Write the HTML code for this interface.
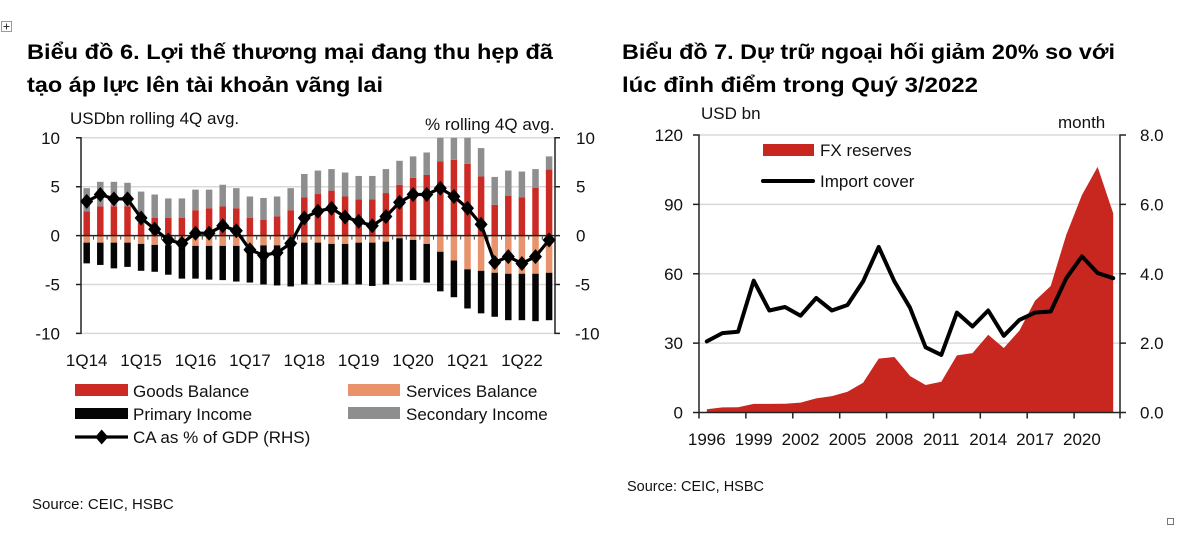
<!DOCTYPE html>
<html>
<head>
<meta charset="utf-8">
<style>
html,body{margin:0;padding:0;background:#fff;}
svg{display:block;}
text{font-family:"Liberation Sans","Noto Sans CJK SC",sans-serif;fill:#111;}
.t{font-weight:bold;font-size:21px;fill:#000;}
.s{font-size:17px;}
</style>
</head>
<body>
<svg width="1200" height="536" viewBox="0 0 1200 536" xmlns="http://www.w3.org/2000/svg">
<defs>
<path id="dm" d="M0,-7.5L6.5,0L0,7.5L-6.5,0Z" fill="#000"/>
</defs>

<!-- top-left icon -->
<rect x="1.5" y="21.5" width="10" height="10" fill="#fff" stroke="#9a9a9a" stroke-width="1"/>
<path d="M6.5,23.5V29.5M3.5,26.5H9.5" stroke="#333" stroke-width="1"/>
<!-- bottom-right square -->
<rect x="1167.5" y="518.5" width="6" height="6" fill="none" stroke="#777" stroke-width="1"/>

<!-- Titles -->
<text class="t" x="27" y="59" textLength="526" lengthAdjust="spacingAndGlyphs">Biểu đồ 6. Lợi thế thương mại đang thu hẹp đã</text>
<text class="t" x="27" y="92" textLength="356" lengthAdjust="spacingAndGlyphs">tạo áp lực lên tài khoản vãng lai</text>
<text class="t" x="622" y="59" textLength="493" lengthAdjust="spacingAndGlyphs">Biểu đồ 7. Dự trữ ngoại hối giảm 20% so với</text>
<text class="t" x="622" y="92" textLength="356" lengthAdjust="spacingAndGlyphs">lúc đỉnh điểm trong Quý 3/2022</text>

<!-- ================= LEFT CHART ================= -->
<text class="s" x="70" y="124">USDbn rolling 4Q avg.</text>
<text class="s" x="425" y="130">% rolling 4Q avg.</text>

<!-- gridlines -->
<g stroke="#d9d9d9" stroke-width="1.5">
<line x1="81" y1="137.8" x2="555" y2="137.8"/>
<line x1="81" y1="186.7" x2="555" y2="186.7"/>
<line x1="81" y1="284.5" x2="555" y2="284.5"/>
<line x1="81" y1="333.4" x2="555" y2="333.4"/>
</g>

<!-- bars in value units -->
<g transform="matrix(1 0 0 -9.78 0 235.6)">
<g fill="#cc2a24">
<rect x="83.45" y="0" width="6.5" height="2.46"/>
<rect x="97.05" y="0" width="6.5" height="3.0"/>
<rect x="110.65" y="0" width="6.5" height="3.0"/>
<rect x="124.25" y="0" width="6.5" height="3.0"/>
<rect x="137.85" y="0" width="6.5" height="1.3"/>
<rect x="151.45" y="0" width="6.5" height="1.8"/>
<rect x="165.05" y="0" width="6.5" height="1.8"/>
<rect x="178.65" y="0" width="6.5" height="1.8"/>
<rect x="192.25" y="0" width="6.5" height="2.6"/>
<rect x="205.85" y="0" width="6.5" height="2.8"/>
<rect x="219.45" y="0" width="6.5" height="3.0"/>
<rect x="233.05" y="0" width="6.5" height="2.8"/>
<rect x="246.65" y="0" width="6.5" height="1.8"/>
<rect x="260.25" y="0" width="6.5" height="1.6"/>
<rect x="273.85" y="0" width="6.5" height="1.95"/>
<rect x="287.45" y="0" width="6.5" height="2.6"/>
<rect x="301.05" y="0" width="6.5" height="3.9"/>
<rect x="314.65" y="0" width="6.5" height="4.25"/>
<rect x="328.25" y="0" width="6.5" height="4.6"/>
<rect x="341.85" y="0" width="6.5" height="4.0"/>
<rect x="355.45" y="0" width="6.5" height="3.7"/>
<rect x="369.05" y="0" width="6.5" height="3.7"/>
<rect x="382.65" y="0" width="6.5" height="4.35"/>
<rect x="396.25" y="0" width="6.5" height="5.2"/>
<rect x="409.85" y="0" width="6.5" height="5.9"/>
<rect x="423.45" y="0" width="6.5" height="6.2"/>
<rect x="437.05" y="0" width="6.5" height="7.6"/>
<rect x="450.65" y="0" width="6.5" height="7.75"/>
<rect x="464.25" y="0" width="6.5" height="7.35"/>
<rect x="477.85" y="0" width="6.5" height="6.05"/>
<rect x="491.45" y="0" width="6.5" height="3.15"/>
<rect x="505.05" y="0" width="6.5" height="4.05"/>
<rect x="518.65" y="0" width="6.5" height="3.9"/>
<rect x="532.25" y="0" width="6.5" height="4.9"/>
<rect x="545.85" y="0" width="6.5" height="6.75"/>
</g>
<g fill="#8e8e8e">
<rect x="83.45" y="2.46" width="6.5" height="2.39"/>
<rect x="97.05" y="3.0" width="6.5" height="2.5"/>
<rect x="110.65" y="3.0" width="6.5" height="2.5"/>
<rect x="124.25" y="3.0" width="6.5" height="2.4"/>
<rect x="137.85" y="1.3" width="6.5" height="3.2"/>
<rect x="151.45" y="1.8" width="6.5" height="2.4"/>
<rect x="165.05" y="1.8" width="6.5" height="2.0"/>
<rect x="178.65" y="1.8" width="6.5" height="2.0"/>
<rect x="192.25" y="2.6" width="6.5" height="2.1"/>
<rect x="205.85" y="2.8" width="6.5" height="1.9"/>
<rect x="219.45" y="3.0" width="6.5" height="2.2"/>
<rect x="233.05" y="2.8" width="6.5" height="2.05"/>
<rect x="246.65" y="1.8" width="6.5" height="2.2"/>
<rect x="260.25" y="1.6" width="6.5" height="2.25"/>
<rect x="273.85" y="1.95" width="6.5" height="2.05"/>
<rect x="287.45" y="2.6" width="6.5" height="2.25"/>
<rect x="301.05" y="3.9" width="6.5" height="2.4"/>
<rect x="314.65" y="4.25" width="6.5" height="2.4"/>
<rect x="328.25" y="4.6" width="6.5" height="2.2"/>
<rect x="341.85" y="4.0" width="6.5" height="2.45"/>
<rect x="355.45" y="3.7" width="6.5" height="2.4"/>
<rect x="369.05" y="3.7" width="6.5" height="2.4"/>
<rect x="382.65" y="4.35" width="6.5" height="2.45"/>
<rect x="396.25" y="5.2" width="6.5" height="2.45"/>
<rect x="409.85" y="5.9" width="6.5" height="2.2"/>
<rect x="423.45" y="6.2" width="6.5" height="2.3"/>
<rect x="437.05" y="7.6" width="6.5" height="2.4"/>
<rect x="450.65" y="7.75" width="6.5" height="2.25"/>
<rect x="464.25" y="7.35" width="6.5" height="2.65"/>
<rect x="477.85" y="6.05" width="6.5" height="2.9"/>
<rect x="491.45" y="3.15" width="6.5" height="2.85"/>
<rect x="505.05" y="4.05" width="6.5" height="2.6"/>
<rect x="518.65" y="3.9" width="6.5" height="2.65"/>
<rect x="532.25" y="4.9" width="6.5" height="1.9"/>
<rect x="545.85" y="6.75" width="6.5" height="1.35"/>
</g>
<g fill="#e8936c">
<rect x="83.45" y="-0.72" width="6.5" height="0.72"/>
<rect x="97.05" y="-0.72" width="6.5" height="0.72"/>
<rect x="110.65" y="-0.72" width="6.5" height="0.72"/>
<rect x="124.25" y="-0.72" width="6.5" height="0.72"/>
<rect x="137.85" y="-0.85" width="6.5" height="0.85"/>
<rect x="151.45" y="-0.95" width="6.5" height="0.95"/>
<rect x="165.05" y="-1.0" width="6.5" height="1.0"/>
<rect x="178.65" y="-1.0" width="6.5" height="1.0"/>
<rect x="192.25" y="-1.05" width="6.5" height="1.05"/>
<rect x="205.85" y="-1.05" width="6.5" height="1.05"/>
<rect x="219.45" y="-1.05" width="6.5" height="1.05"/>
<rect x="233.05" y="-1.05" width="6.5" height="1.05"/>
<rect x="246.65" y="-1.0" width="6.5" height="1.0"/>
<rect x="260.25" y="-1.0" width="6.5" height="1.0"/>
<rect x="273.85" y="-1.0" width="6.5" height="1.0"/>
<rect x="287.45" y="-1.0" width="6.5" height="1.0"/>
<rect x="301.05" y="-0.72" width="6.5" height="0.72"/>
<rect x="314.65" y="-0.72" width="6.5" height="0.72"/>
<rect x="328.25" y="-0.85" width="6.5" height="0.85"/>
<rect x="341.85" y="-0.85" width="6.5" height="0.85"/>
<rect x="355.45" y="-0.72" width="6.5" height="0.72"/>
<rect x="369.05" y="-0.72" width="6.5" height="0.72"/>
<rect x="382.65" y="-0.62" width="6.5" height="0.62"/>
<rect x="396.25" y="-0.27" width="6.5" height="0.27"/>
<rect x="409.85" y="-0.44" width="6.5" height="0.44"/>
<rect x="423.45" y="-0.85" width="6.5" height="0.85"/>
<rect x="437.05" y="-1.65" width="6.5" height="1.65"/>
<rect x="450.65" y="-2.55" width="6.5" height="2.55"/>
<rect x="464.25" y="-3.45" width="6.5" height="3.45"/>
<rect x="477.85" y="-3.6" width="6.5" height="3.6"/>
<rect x="491.45" y="-3.8" width="6.5" height="3.8"/>
<rect x="505.05" y="-3.9" width="6.5" height="3.9"/>
<rect x="518.65" y="-3.9" width="6.5" height="3.9"/>
<rect x="532.25" y="-3.9" width="6.5" height="3.9"/>
<rect x="545.85" y="-3.8" width="6.5" height="3.8"/>
</g>
<g fill="#050505">
<rect x="83.45" y="-2.84" width="6.5" height="2.12"/>
<rect x="97.05" y="-3.0" width="6.5" height="2.28"/>
<rect x="110.65" y="-3.35" width="6.5" height="2.63"/>
<rect x="124.25" y="-3.2" width="6.5" height="2.48"/>
<rect x="137.85" y="-3.6" width="6.5" height="2.75"/>
<rect x="151.45" y="-3.7" width="6.5" height="2.75"/>
<rect x="165.05" y="-4.0" width="6.5" height="3.0"/>
<rect x="178.65" y="-4.4" width="6.5" height="3.4"/>
<rect x="192.25" y="-4.4" width="6.5" height="3.35"/>
<rect x="205.85" y="-4.5" width="6.5" height="3.45"/>
<rect x="219.45" y="-4.55" width="6.5" height="3.5"/>
<rect x="233.05" y="-4.7" width="6.5" height="3.65"/>
<rect x="246.65" y="-4.8" width="6.5" height="3.8"/>
<rect x="260.25" y="-5.0" width="6.5" height="4.0"/>
<rect x="273.85" y="-5.1" width="6.5" height="4.1"/>
<rect x="287.45" y="-5.2" width="6.5" height="4.2"/>
<rect x="301.05" y="-5.0" width="6.5" height="4.28"/>
<rect x="314.65" y="-5.0" width="6.5" height="4.28"/>
<rect x="328.25" y="-4.8" width="6.5" height="3.95"/>
<rect x="341.85" y="-5.0" width="6.5" height="4.15"/>
<rect x="355.45" y="-5.0" width="6.5" height="4.28"/>
<rect x="369.05" y="-5.15" width="6.5" height="4.43"/>
<rect x="382.65" y="-5.0" width="6.5" height="4.38"/>
<rect x="396.25" y="-4.7" width="6.5" height="4.43"/>
<rect x="409.85" y="-4.55" width="6.5" height="4.11"/>
<rect x="423.45" y="-4.8" width="6.5" height="3.95"/>
<rect x="437.05" y="-5.7" width="6.5" height="4.05"/>
<rect x="450.65" y="-6.3" width="6.5" height="3.75"/>
<rect x="464.25" y="-7.45" width="6.5" height="4.0"/>
<rect x="477.85" y="-7.95" width="6.5" height="4.35"/>
<rect x="491.45" y="-8.3" width="6.5" height="4.5"/>
<rect x="505.05" y="-8.65" width="6.5" height="4.75"/>
<rect x="518.65" y="-8.65" width="6.5" height="4.75"/>
<rect x="532.25" y="-8.75" width="6.5" height="4.85"/>
<rect x="545.85" y="-8.65" width="6.5" height="4.85"/>
</g>
</g>

<!-- axes left chart -->
<g stroke="#222" stroke-width="1.5" fill="none">
<line x1="81" y1="235.6" x2="555" y2="235.6"/>
<path d="M76,137.8H81V333.4H76M76,186.7H81M76,235.6H81M76,284.5H81"/>
<path d="M560,137.8H555V333.4H560M555,186.7H560M555,235.6H560M555,284.5H560"/>
</g>
<g stroke="#444" stroke-width="1">
<path d="M93.5,235.6v4M107.1,235.6v4M120.7,235.6v4M134.3,235.6v4M147.9,235.6v4M161.5,235.6v4M175.1,235.6v4M188.7,235.6v4M202.3,235.6v4M215.9,235.6v4M229.5,235.6v4M243.1,235.6v4M256.7,235.6v4M270.3,235.6v4M283.9,235.6v4M297.5,235.6v4M311.1,235.6v4M324.7,235.6v4M338.3,235.6v4M351.9,235.6v4M365.5,235.6v4M379.1,235.6v4M392.7,235.6v4M406.3,235.6v4M419.9,235.6v4M433.5,235.6v4M447.1,235.6v4M460.7,235.6v4M474.3,235.6v4M487.9,235.6v4M501.5,235.6v4M515.1,235.6v4M528.7,235.6v4M542.3,235.6v4"/>
</g>

<!-- CA line -->
<polyline fill="none" stroke="#000" stroke-width="3.2" stroke-linejoin="round" points="86.7,201.4 100.3,194.5 113.9,198.9 127.5,198.9 141.1,218.0 154.7,229.2 168.3,240.0 181.9,243.4 195.5,233.2 209.1,233.2 222.7,225.8 236.3,230.7 249.9,249.8 263.5,255.2 277.1,252.7 290.7,243.4 304.3,218.0 317.9,211.2 331.5,208.2 345.1,217.0 358.7,221.4 372.3,225.8 385.9,216.5 399.5,202.4 413.1,194.5 426.7,194.5 440.3,188.2 453.9,196.5 467.5,208.2 481.1,224.4 494.7,262.5 508.3,256.6 521.9,263.5 535.5,256.6 549.1,240.0"/>
<g>
<use href="#dm" x="86.7" y="201.4"/><use href="#dm" x="100.3" y="194.5"/><use href="#dm" x="113.9" y="198.9"/><use href="#dm" x="127.5" y="198.9"/><use href="#dm" x="141.1" y="218.0"/><use href="#dm" x="154.7" y="229.2"/><use href="#dm" x="168.3" y="240.0"/><use href="#dm" x="181.9" y="243.4"/><use href="#dm" x="195.5" y="233.2"/><use href="#dm" x="209.1" y="233.2"/><use href="#dm" x="222.7" y="225.8"/><use href="#dm" x="236.3" y="230.7"/><use href="#dm" x="249.9" y="249.8"/><use href="#dm" x="263.5" y="255.2"/><use href="#dm" x="277.1" y="252.7"/><use href="#dm" x="290.7" y="243.4"/><use href="#dm" x="304.3" y="218.0"/><use href="#dm" x="317.9" y="211.2"/><use href="#dm" x="331.5" y="208.2"/><use href="#dm" x="345.1" y="217.0"/><use href="#dm" x="358.7" y="221.4"/><use href="#dm" x="372.3" y="225.8"/><use href="#dm" x="385.9" y="216.5"/><use href="#dm" x="399.5" y="202.4"/><use href="#dm" x="413.1" y="194.5"/><use href="#dm" x="426.7" y="194.5"/><use href="#dm" x="440.3" y="188.2"/><use href="#dm" x="453.9" y="196.5"/><use href="#dm" x="467.5" y="208.2"/><use href="#dm" x="481.1" y="224.4"/><use href="#dm" x="494.7" y="262.5"/><use href="#dm" x="508.3" y="256.6"/><use href="#dm" x="521.9" y="263.5"/><use href="#dm" x="535.5" y="256.6"/><use href="#dm" x="549.1" y="240.0"/>
</g>

<!-- left tick labels -->
<g text-anchor="end">
<text class="s" x="60" y="143.8">10</text>
<text class="s" x="60" y="192.7">5</text>
<text class="s" x="60" y="241.6">0</text>
<text class="s" x="60" y="290.5">-5</text>
<text class="s" x="60" y="339.4">-10</text>
</g>
<g>
<text class="s" x="576" y="143.8">10</text>
<text class="s" x="576" y="192.7">5</text>
<text class="s" x="576" y="241.6">0</text>
<text class="s" x="575" y="290.5">-5</text>
<text class="s" x="575" y="339.4">-10</text>
</g>
<g text-anchor="middle">
<text class="s" x="86.7" y="366">1Q14</text>
<text class="s" x="141.1" y="366">1Q15</text>
<text class="s" x="195.5" y="366">1Q16</text>
<text class="s" x="249.9" y="366">1Q17</text>
<text class="s" x="304.3" y="366">1Q18</text>
<text class="s" x="358.7" y="366">1Q19</text>
<text class="s" x="413.1" y="366">1Q20</text>
<text class="s" x="467.5" y="366">1Q21</text>
<text class="s" x="521.9" y="366">1Q22</text>
</g>

<!-- left legend -->
<rect x="75" y="384" width="53" height="12" fill="#cc2a24"/>
<text class="s" x="133" y="397">Goods Balance</text>
<rect x="348" y="384" width="52" height="12" fill="#e8936c"/>
<text class="s" x="406" y="397">Services Balance</text>
<rect x="75" y="408" width="53" height="11" fill="#050505"/>
<text class="s" x="133" y="420">Primary Income</text>
<rect x="348" y="407" width="52" height="12" fill="#8e8e8e"/>
<text class="s" x="406" y="420">Secondary Income</text>
<line x1="75" y1="437" x2="128" y2="437" stroke="#000" stroke-width="3.2"/>
<use href="#dm" x="101.7" y="437"/>
<text class="s" x="133" y="443">CA as % of GDP (RHS)</text>

<text x="32" y="509" style="font-size:15px">Source: CEIC, HSBC</text>

<!-- ================= RIGHT CHART ================= -->
<text class="s" x="701" y="119">USD bn</text>
<text class="s" x="1058" y="128">month</text>

<g stroke="#d9d9d9" stroke-width="1.5">
<line x1="699" y1="135" x2="1120" y2="135"/>
<line x1="699" y1="204.4" x2="1120" y2="204.4"/>
<line x1="699" y1="273.8" x2="1120" y2="273.8"/>
<line x1="699" y1="343.1" x2="1120" y2="343.1"/>
</g>

<polygon fill="#c8271f" points="706.8,412.5 706.8,409.3 722.4,407.4 738.1,407.2 753.7,403.9 769.3,403.9 785.0,403.7 800.6,402.6 816.2,398.4 831.9,396.1 847.5,391.7 863.1,382.7 878.7,358.6 894.4,357.0 910.0,376.0 925.6,385.0 941.3,381.7 956.9,355.4 972.5,353.1 988.2,334.8 1003.8,348.0 1019.4,330.6 1035.0,300.8 1050.7,286.0 1066.3,234.7 1081.9,195.1 1097.6,166.9 1113.2,213.2 1113.2,412.5"/>

<polyline fill="none" stroke="#000" stroke-width="4" stroke-linejoin="round" stroke-linecap="round" points="706.8,341.4 722.4,333.1 738.1,331.7 753.7,280.7 769.3,310.5 785.0,307.0 800.6,315.7 816.2,298.0 831.9,310.5 847.5,305.0 863.1,281.4 878.7,247.0 894.4,281.4 910.0,307.7 925.6,347.3 941.3,354.9 956.9,312.6 972.5,326.5 988.2,310.5 1003.8,335.8 1019.4,319.9 1035.0,312.6 1050.7,311.5 1066.3,278.2 1081.9,256.4 1097.6,273.0 1113.2,278.2"/>

<g stroke="#222" stroke-width="1.5" fill="none">
<path d="M693,135H699V412.5H693M693,204.4H699M693,273.8H699M693,343.1H699"/>
<path d="M1126,135H1120V412.5H1126M1120,204.4H1126M1120,273.8H1126M1120,343.1H1126"/>
<path d="M699,412.5H1121M699,412.5v6M745.9,412.5v6M792.8,412.5v6M839.7,412.5v6M886.6,412.5v6M933.5,412.5v6M980.3,412.5v6M1027.2,412.5v6M1074.1,412.5v6M1120,412.5v6"/>
</g>

<g text-anchor="end">
<text class="s" x="683" y="141">120</text>
<text class="s" x="683" y="210.4">90</text>
<text class="s" x="683" y="279.8">60</text>
<text class="s" x="683" y="349.1">30</text>
<text class="s" x="683" y="418.5">0</text>
</g>
<g>
<text class="s" x="1140" y="141">8.0</text>
<text class="s" x="1140" y="210.4">6.0</text>
<text class="s" x="1140" y="279.8">4.0</text>
<text class="s" x="1140" y="349.1">2.0</text>
<text class="s" x="1140" y="418.5">0.0</text>
</g>
<g text-anchor="middle">
<text class="s" x="706.8" y="445">1996</text>
<text class="s" x="753.7" y="445">1999</text>
<text class="s" x="800.6" y="445">2002</text>
<text class="s" x="847.5" y="445">2005</text>
<text class="s" x="894.4" y="445">2008</text>
<text class="s" x="941.3" y="445">2011</text>
<text class="s" x="988.2" y="445">2014</text>
<text class="s" x="1035.0" y="445">2017</text>
<text class="s" x="1081.9" y="445">2020</text>
</g>

<!-- right legend -->
<rect x="763" y="144" width="51" height="12" fill="#c8271f"/>
<text class="s" x="820" y="156">FX reserves</text>
<line x1="763" y1="181" x2="813" y2="181" stroke="#000" stroke-width="4" stroke-linecap="round"/>
<text class="s" x="820" y="187">Import cover</text>

<text x="627" y="491" style="font-size:14.5px">Source: CEIC, HSBC</text>
</svg>
</body>
</html>
